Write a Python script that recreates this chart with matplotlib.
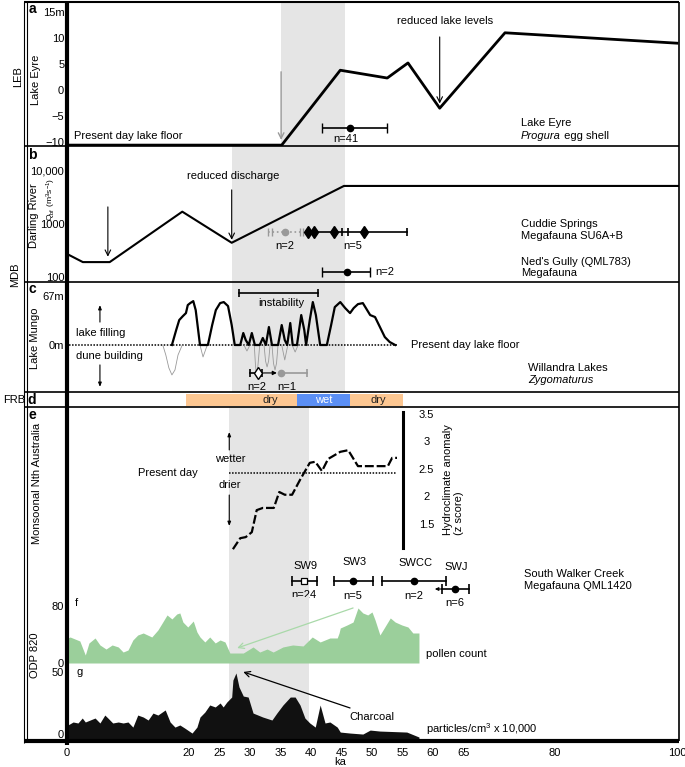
import matplotlib
matplotlib.use('Agg')
import matplotlib.pyplot as plt
from matplotlib.lines import Line2D
from matplotlib.ticker import NullLocator

plt.rcParams.update({'font.family': ['Liberation Sans', 'DejaVu Sans'], 'font.size': 8,
                     'mathtext.default': 'regular'})

W, H = 685, 767
KA_MAX = 100.33
BAND = '#e5e5e5'
GREY = '#999999'

# ---------------- datos (ka en el eje x) ----------------
# a: Lake Eyre nivel (m)
eyre_ka = [0, 35.2, 44.8, 52.5, 55.9, 61.1, 71.8, 100]
eyre_m = [-10.6, -10.6, 3.8, 2.3, 5.2, -3.5, 11.0, 9.0]
eyre_date = (46.4, 41.8, 52.5)            # punto, min, max

# b: Darling River Qbf
darling_ka = [0.3, 2.6, 7.0, 18.9, 27.0, 45.4, 100.3]
darling_q = [260, 190, 190, 1700, 440, 5200, 5200]
cuddie_grey_caps = [33.0, 33.6, 38.2, 38.7]
cuddie_grey_pt = 35.7
cuddie_diamonds = [39.5, 40.5, 43.8, 48.7]
cuddie_ticks = [45.1, 46.1, 55.7]
neds_date = (45.9, 41.8, 49.7)

# c: Lake Mungo (m)
mungo_ka = [17.2, 17.9, 18.4, 19.0, 19.5, 19.8, 20.2, 20.7, 21.1, 21.5, 21.8, 23.1, 23.8, 24.4,
            25.1, 25.7, 26.4, 27.0, 27.5, 28.4, 28.9, 29.3, 29.8, 30.3, 30.8, 31.6, 32.1, 32.6,
            33.1, 33.6, 34.6, 35.2, 35.7, 36.1, 36.6, 37.0, 37.7, 38.4, 38.9, 39.2, 39.8, 40.3,
            40.8, 41.5, 42.6, 43.3, 43.9, 44.8, 45.6, 46.4, 47.0, 47.7, 48.5, 49.0, 49.7, 50.5,
            51.3, 52.1, 52.9, 53.8]
mungo_m = [0, 20.5, 34.2, 39.6, 43.7, 54.7, 57.4, 60.1, 47.8, 20.5, 0, 0, 27.3, 47.8,
           57.4, 58.8, 53.3, 27.3, 0, 0, 16.4, 6.8, 0, 16.4, 0, 0, 9.6, 0,
           24.6, 0, 0, 27.3, 6.8, 0, 30.1, 0, 0, 41.0, 20.5, 0, 34.2, 58.8,
           41.0, 0, 0, 27.3, 51.9, 58.8, 50.6, 43.7, 50.6, 56.0, 57.4, 50.6, 41.0, 38.3,
           24.6, 10.9, 4.1, 0]
dune_ka = [15.7, 16.2, 16.7, 17.2, 17.7, 18.2, 18.9, None, 21.8, 22.3, 23.0, None,
           29.0, 29.5, 30.0, None, 30.7, 30.9, 31.1, 31.3, 31.6, None, 32.3, 32.55, 32.8, 33.05, 33.3,
           None, 33.6, 33.85, 34.1, 34.35, 34.6, None, 35.2, 35.7, 36.2, None, 36.9, 37.4, 37.9]
dune_m = [0, -13.7, -31.4, -41.0, -34.2, -13.7, 0, None, 0, -16.4, 0, None,
          0, -8.2, 0, None, 0, -28, -43.7, -28, 0, None, 0, -22, -30.1, -22, 0,
          None, 0, -25, -34.2, -25, 0, None, 0, -20.5, 0, None, 0, -9.6, 0]
instab = (28.2, 41.1)

# d: FRB
frb_start = [19.5, 37.7, 46.4]
frb_end = [37.7, 46.4, 55.1]
frb_label = ['dry', 'wet', 'dry']
frb_label_x = [33.3, 42.1, 51.0]
frb_color = ['#fdc792', '#5b8ff5', '#fdc792']

# e: hydroclimate anomaly (z)
hydro_ka = [27.2, 28.4, 29.3, 30.3, 31.1, 32.1, 33.9, 34.8, 35.7, 36.9, 38.2, 39.8, 40.7,
            41.8, 42.8, 44.8, 46.1, 47.7, 52.6, 53.3, 54.1]
hydro_z = [1.06, 1.26, 1.28, 1.37, 1.77, 1.81, 1.81, 2.10, 2.05, 2.05, 2.32, 2.63, 2.65,
           2.48, 2.70, 2.83, 2.86, 2.57, 2.57, 2.72, 2.72]
hydro_present = 2.445
hydro_ticks = [3.5, 3, 2.5, 2, 1.5]
sw_names = ['SW9', 'SW3', 'SWCC', 'SWJ']
sw_pt = [38.9, 46.9, 56.9, 63.6]
sw_lo = [36.9, 43.8, 51.6, 61.5]
sw_hi = [41.0, 50.2, 62.1, 65.9]
sw_n = ['n=24', 'n=5', 'n=2', 'n=6']

# f: ODP 820 pollen
pollen_ka = [0.16, 0.5, 2.1, 3.0, 3.6, 4.6, 5.4, 6.4, 7.4, 8.4, 9.2, 10.0, 10.8, 11.6, 12.5,
             13.9, 14.9, 15.7, 16.4, 17.2, 18.0, 18.5, 19.0, 19.8, 20.7, 21.3, 21.8, 22.6,
             23.4, 24.3, 25.1, 25.9, 26.7, 27.9, 28.9, 30.5, 31.6, 32.8, 33.8, 35.4, 37.0,
             38.7, 40.2, 41.5, 43.1, 44.3, 44.6, 44.8, 45.9, 46.9, 47.7, 48.5, 49.3, 50.0,
             50.5, 51.3, 52.1, 53.0, 53.8, 54.9, 55.9, 56.7, 57.7]
pollen_val = [35.1, 36.5, 30.9, 11.2, 28.1, 35.1, 25.3, 19.6, 25.3, 22.5, 15.4, 18.2, 32.3,
              39.3, 42.1, 36.5, 46.3, 57.5, 67.4, 61.8, 68.8, 70.2, 57.5, 50.5, 58.9, 43.5,
              36.5, 29.5, 36.5, 28.1, 32.3, 29.5, 14.0, 14.0, 14.0, 22.5, 15.4, 19.6, 15.4,
              22.5, 25.3, 23.9, 36.5, 29.5, 35.1, 35.1, 42.0, 49.1, 53.3, 57.5, 77.2, 70.2,
              67.4, 71.6, 60.4, 39.3, 50.5, 63.2, 57.5, 53.3, 50.5, 42.1, 42.1]

# g: charcoal
char_ka = [0.16, 1.0, 1.8, 2.5, 3.0, 3.8, 4.6, 5.4, 6.2, 6.7, 7.5, 8.4, 9.2, 10.0, 10.8, 11.6,
           12.5, 13.3, 14.1, 14.9, 16.1, 16.9, 17.7, 18.5, 19.3, 20.5, 21.3, 21.8, 22.6, 23.4,
           24.3, 25.1, 25.6, 26.2, 27.0, 27.2, 27.7, 28.2, 28.9, 29.7, 30.5, 31.3, 32.1, 33.6,
           34.4, 35.4, 36.6, 37.4, 38.2, 39.0, 39.8, 40.7, 41.5, 42.3, 43.1, 44.3, 44.8, 46.4,
           48.5, 49.7, 51.3, 55.7, 57.7]
char_val = [7.3, 9.7, 8.9, 12.9, 9.7, 11.3, 12.9, 8.9, 15.3, 12.9, 8.9, 9.7, 8.9, 9.7, 5.6,
            15.3, 13.7, 11.3, 16.9, 15.3, 19.4, 9.7, 5.6, 7.3, 4.8, 0.8, 5.6, 13.7, 17.7, 23.4,
            21.8, 25.0, 21.8, 25.8, 29.8, 43.5, 49.2, 37.9, 30.6, 29.8, 16.9, 15.3, 13.7, 11.3,
            16.9, 23.4, 29.8, 29.8, 23.4, 12.9, 8.9, 5.6, 23.4, 8.9, 9.7, 5.6, 1.6, 0.8,
            0.0, 3.2, 2.4, 1.6, -2.4]

ka_ticks = [0, 20, 25, 30, 35, 40, 45, 50, 55, 60, 65, 80, 100]

# ---------------- figura ----------------
fig = plt.figure(figsize=(W / 100, H / 100), dpi=100)


def box(top, bottom):
    return [67 / W, 1 - bottom / H, (679 - 67) / W, (bottom - top) / H]


def setup(ax):
    ax.set_xlim(0, KA_MAX)
    ax.set_facecolor('none')
    for s in ax.spines.values():
        s.set_visible(False)
    ax.set_xticks([])
    ax.tick_params(axis='y', length=0, pad=2, labelsize=8)


def arrow(ax, start, end, color='k', lw=0.8, style='->,head_length=0.5,head_width=0.25'):
    ax.annotate('', xy=end, xytext=start,
                arrowprops=dict(arrowstyle=style, color=color, lw=lw, shrinkA=0, shrinkB=0))


def italic_then(ax, x, y, ital, rest):
    t = ax.text(x, y, ital, style='italic', ha='left', va='center')
    ax.annotate(rest, xy=(1, 0), xycoords=t, ha='left', va='bottom')


ax_a = fig.add_axes(box(2, 146))
ax_b = fig.add_axes(box(146, 282))
ax_c = fig.add_axes(box(282, 392))
ax_d = fig.add_axes(box(392, 407))
ax_e = fig.add_axes(box(407, 597))
ax_f = fig.add_axes(box(597, 666))
ax_g = fig.add_axes(box(666, 741))
for ax in (ax_a, ax_b, ax_c, ax_d, ax_e, ax_f, ax_g):
    setup(ax)

# ---- a ----
ax = ax_a
ax.set_ylim(-10.77, 16.92)
ax.set_yticks([15, 10, 5, 0, -5, -10], ['15m', '10', '5', '0', '\u22125', '\u221210'])
ax.axvspan(35.1, 45.6, color=BAND, lw=0, zorder=0)
ax.plot(eyre_ka, eyre_m, color='k', lw=2)
arrow(ax, (35.1, 3.5), (35.1, -9.6), color=GREY, lw=1.0)
arrow(ax, (61.1, 10.2), (61.1, -2.6))
ax.text(62.0, 13.3, 'reduced lake levels', ha='center', va='center')
ax.text(1.1, -8.85, 'Present day lake floor', ha='left', va='center')
p, lo, hi = eyre_date
ax.errorbar(p, -7.3, xerr=[[p - lo], [hi - p]], fmt='o', color='k', ms=4.5, lw=1.2, capsize=3.5)
ax.text(45.7, -9.5, 'n=41', ha='center', va='center')
ax.text(74.4, -6.35, 'Lake Eyre', ha='left', va='center')
italic_then(ax, 74.4, -8.85, 'Progura', ' egg shell')

# ---- b ----
ax = ax_b
ax.set_yscale('log')
ax.set_ylim(80, 29500)
ax.set_yticks([10000, 1000, 100], ['10,000', '1000', '100'])
ax.yaxis.set_minor_locator(NullLocator())
ax.axvspan(27.0, 45.6, color=BAND, lw=0, zorder=0)
ax.plot(darling_ka, darling_q, color='k', lw=1.5)
arrow(ax, (6.7, 2090), (6.7, 240))
arrow(ax, (27.0, 4380), (27.0, 500))
ax.text(27.2, 8050, 'reduced discharge', ha='center', va='center')
yc = 700
ax.plot([cuddie_grey_caps[0], cuddie_grey_caps[-1]], [yc, yc], color=GREY, ls=':', lw=1.2)
ax.plot(cuddie_grey_caps, [yc] * len(cuddie_grey_caps), ls='none', marker='|', color=GREY, ms=6, mew=1)
ax.plot(cuddie_grey_pt, yc, 'o', color=GREY, ms=4.5)
ax.plot([cuddie_diamonds[0], cuddie_ticks[-1]], [yc, yc], color='k', lw=1.2)
ax.plot(cuddie_diamonds, [yc] * len(cuddie_diamonds), ls='none', marker='d', color='k', ms=6)
ax.plot(cuddie_ticks, [yc] * len(cuddie_ticks), ls='none', marker='|', color='k', ms=6, mew=1.2)
ax.text(35.7, 385, 'n=2', ha='center', va='center')
ax.text(46.9, 385, 'n=5', ha='center', va='center')
p, lo, hi = neds_date
ax.errorbar(p, 124, xerr=[[p - lo], [hi - p]], fmt='o', color='k', ms=4.5, lw=1.2, capsize=3.5)
ax.text(50.6, 124, 'n=2', ha='left', va='center')
ax.text(74.4, 1000, 'Cuddie Springs', ha='left', va='center')
ax.text(74.4, 595, 'Megafauna SU6A+B', ha='left', va='center')
ax.text(74.4, 192, "Ned's Gully (QML783)", ha='left', va='center')
ax.text(74.4, 119, 'Megafauna', ha='left', va='center')

# ---- c ----
ax = ax_c
ax.set_ylim(-64.4, 86.3)
ax.set_yticks([67, 0], ['67m', '0m'])
ax.axvspan(27.0, 45.6, color=BAND, lw=0, zorder=0)
ax.plot([0.3, 54.1], [0, 0], color='k', ls=(0, (1, 1)), lw=1.1)
dk = [float('nan') if v is None else v for v in dune_ka]
dm = [float('nan') if v is None else v for v in dune_m]
ax.plot(dk, dm, color=GREY, lw=0.6)
ax.plot(mungo_ka, mungo_m, color='k', lw=1.6)
ax.plot(instab, [71.1, 71.1], color='k', lw=1.2, marker='|', ms=6, mew=1.2)
ax.text(35.2, 57.4, 'instability', ha='center', va='center')
ax.plot([30.0, 32.0], [-38.3, -38.3], color='k', lw=1.2, marker='|', ms=6, mew=1.2)
ax.plot(31.3, -38.3, marker='d', mfc='white', mec='k', ms=6, mew=1)
arrow(ax, (32.2, -38.3), (34.4, -38.3), lw=0.8, style='-|>,head_length=0.3,head_width=0.15')
ax.plot([35.1, 39.3], [-38.3, -38.3], color=GREY, lw=1.2)
ax.plot(39.3, -38.3, marker='|', color=GREY, ms=6, mew=1.2)
ax.plot(35.1, -38.3, 'o', color=GREY, ms=4.5)
ax.text(31.1, -57.4, 'n=2', ha='center', va='center')
ax.text(36.1, -57.4, 'n=1', ha='center', va='center')
ax.text(1.5, 16.4, 'lake filling', ha='left', va='center')
ax.text(1.5, -15.0, 'dune building', ha='left', va='center')
arrow(ax, (5.4, 31.4), (5.4, 54.7), lw=0.8, style='-|>,head_length=0.3,head_width=0.12')
arrow(ax, (5.4, -27.3), (5.4, -57.4), lw=0.8, style='-|>,head_length=0.3,head_width=0.12')
ax.text(56.4, 0, 'Present day lake floor', ha='left', va='center')
ax.text(75.6, -31.4, 'Willandra Lakes', ha='left', va='center')
ax.text(75.6, -47.8, 'Zygomaturus', style='italic', ha='left', va='center')

# ---- d ----
ax = ax_d
ax.set_ylim(0, 1)
ax.set_yticks([])
for s, e, lab, lx, col in zip(frb_start, frb_end, frb_label, frb_label_x, frb_color):
    ax.barh(0.5, e - s, left=s, height=0.8, color=col, lw=0)
    ax.text(lx, 0.47, lab, ha='center', va='center',
            color='white' if lab == 'wet' else '#222222')

# ---- e ----
ax = ax_e
ax.set_ylim(0.191, 3.645)
ax.set_yticks([])
ax.axvspan(26.6, 39.7, color=BAND, lw=0, zorder=0)
ax.plot(hydro_ka, hydro_z, color='k', lw=1.6, ls=(0, (4, 1.3)))
ax.plot([26.6, 54.1], [hydro_present, hydro_present], color='k', ls=(0, (1, 1)), lw=1.1)
ax.plot([55.1, 55.1], [1.08, 3.555], color='k', lw=2.2)
for z in hydro_ticks:
    ax.text(58.9, z, f'{z:g}', ha='center', va='center')
ax.text(63.3, 1.318, 'Hydroclimate anomaly\n(z score)', rotation=90, ha='center', va='bottom',
        multialignment='left', linespacing=1.1)
ax.text(16.6, hydro_present, 'Present day', ha='center', va='center')
ax.text(26.7, 2.70, 'wetter', ha='center', va='center')
ax.text(26.7, 2.227, 'drier', ha='center', va='center')
arrow(ax, (26.6, 2.864), (26.6, 3.19), lw=0.8, style='-|>,head_length=0.3,head_width=0.12')
arrow(ax, (26.6, 2.045), (26.6, 1.482), lw=0.8, style='-|>,head_length=0.3,head_width=0.12')
sw_y = [0.482, 0.482, 0.482, 0.336]
sw_label_y = [0.755, 0.827, 0.809, 0.736]
sw_n_y = [0.227, 0.209, 0.209, 0.082]
for name, pt, lo, hi, n, y, ly, ny in zip(sw_names, sw_pt, sw_lo, sw_hi, sw_n, sw_y, sw_label_y, sw_n_y):
    ax.plot([lo, hi], [y, y], color='k', lw=1.2, marker='|', ms=7, mew=1.2)
    if name == 'SW9':
        ax.plot(pt, y, marker='s', mfc='white', mec='k', ms=5, mew=0.9)
    else:
        ax.plot(pt, y, 'o', color='k', ms=4.5)
    ax.text(pt + 0.2, ly, name, ha='center', va='center')
    ax.text(pt, ny, n, ha='center', va='center', clip_on=False)
arrow(ax, (sw_lo[3], sw_y[3]), (sw_lo[3] - 1.2, sw_y[3]), lw=0.8,
      style='-|>,head_length=0.25,head_width=0.12')
ax.text(74.9, 0.609, 'South Walker Creek', ha='left', va='center')
ax.text(74.9, 0.391, 'Megafauna QML1420', ha='left', va='center')

# ---- f ----
ax = ax_f
ax.set_ylim(-4.2, 92.6)
ax.set_yticks([80, 0], ['80', '0'])
ax.axvspan(26.6, 39.7, color=BAND, lw=0, zorder=0)
ax.fill_between(pollen_ka, pollen_val, 0, color='#9bcf9b', lw=0)
ax.text(1.3, 84.2, 'f', ha='left', va='center')
ax.text(58.9, 12.6, 'pollen count', ha='left', va='center')
arrow(ax, (46.9, 77.2), (27.9, 21.0), color='#a9d9a9', lw=0.9)

# ---- g ----
ax = ax_g
ax.set_ylim(-5.6, 54.8)
ax.set_yticks([50, 0], ['50', '0'])
ax.axvspan(26.6, 39.7, color=BAND, lw=0, zorder=0)
ax.fill_between(char_ka, char_val, -5.6, color='#111111', lw=0)
ax.text(1.6, 50, 'g', ha='left', va='center')
ax.text(50.0, 13.7, 'Charcoal', ha='center', va='center')
ax.text(58.9, 4.0, 'particles/cm$^3$ x 10,000', ha='left', va='center')
arrow(ax, (46.4, 21.0), (28.9, 50.0), lw=0.9)
ax.set_xticks(ka_ticks, [str(t) for t in ka_ticks])
ax.tick_params(axis='x', length=0, pad=5, labelsize=8)
ax.annotate('ka', xy=(44.8, 0), xycoords=('data', 'axes fraction'), xytext=(0, -15),
            textcoords='offset points', ha='center', va='center')

# ---- marco ----
def fline(x0, y0, x1, y1, lw):
    fig.add_artist(Line2D([x0 / W, x1 / W], [1 - y0 / H, 1 - y1 / H], color='k', lw=lw,
                          transform=fig.transFigure, solid_capstyle='butt'))


for y, lw in [(2, 1.5), (146, 1.2), (282, 1.2), (392, 1.2), (407, 1.2)]:
    fline(24, y, 679, y, lw)
fline(24, 741, 679, 741, 3)
fline(24, 2, 24, 743, 0.8)
fline(27, 2, 27, 741, 0.8)
fline(67, 2, 67, 745, 3)
fline(679, 2, 679, 741, 1.2)

# ---- etiquetas columna izquierda ----
def ftext(x, y, s, **kw):
    fig.text(x / W, 1 - y / H, s, ha=kw.pop('ha', 'center'), va=kw.pop('va', 'center'), **kw)


ftext(18, 77, 'LEB', rotation=90)
ftext(15, 275, 'MDB', rotation=90)
ftext(14, 400, 'FRB')
ftext(36, 80, 'Lake Eyre', rotation=90)
ftext(34, 216, 'Darling River', rotation=90)
ftext(51, 199, 'Q$_{bf}$ (m$^3$s$^{-1}$)', rotation=90, fontsize=6.1)
ftext(35, 338, 'Lake Mungo', rotation=90)
ftext(37, 483, 'Monsoonal Nth Australia', rotation=90)
ftext(35, 655, 'ODP 820', rotation=90)
for letter, y in [('a', 9), ('b', 155), ('c', 289), ('d', 400), ('e', 415)]:
    ftext(32, y, letter, fontsize=10, fontweight='bold')

fig.savefig('out.png', dpi=100)
